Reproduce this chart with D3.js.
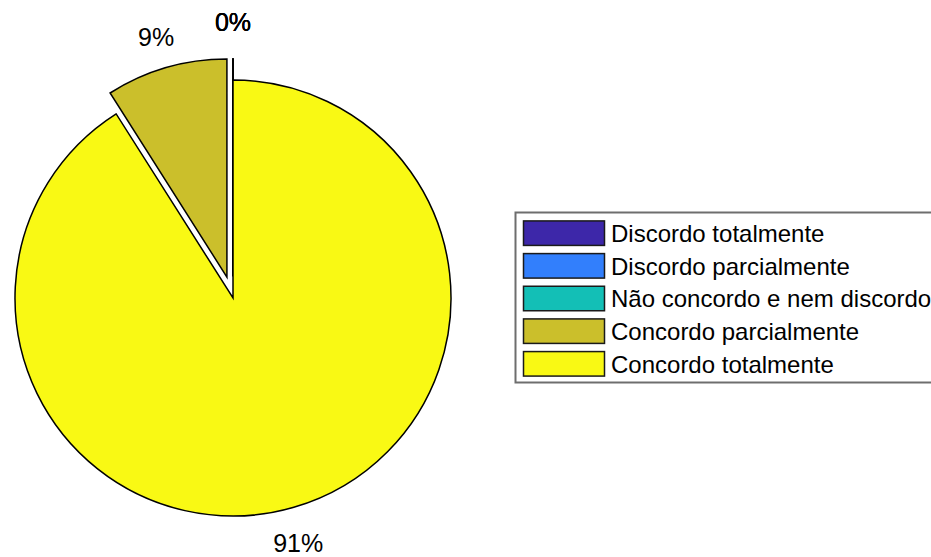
<!DOCTYPE html>
<html>
<head>
<meta charset="utf-8">
<script src="https://cdn.jsdelivr.net/npm/d3@7"></script>
<style>
  html, body { margin: 0; padding: 0; background: #fff; }
  svg { display: block; }
  text { font-family: "Liberation Sans", Arial, sans-serif; fill: #000; }
</style>
</head>
<body>
<svg id="chart" width="931" height="557"></svg>
<script>
// ---- data ----
const categories = ["Discordo totalmente", "Discordo parcialmente", "Não concordo e nem discordo", "Concordo parcialmente", "Concordo totalmente"];
const values = [0, 0, 0, 9, 91];
const labels = ["0%", "0%", "0%", "9%", "91%"];
const explode = [1, 1, 1, 1, 0];
const colors = ["#3d27a9", "#327ffc", "#13bfb6", "#cbbf2b", "#f9f914"];

// ---- layout ----
const W = 931, H = 557;
const cx = 233, cy = 298, R = 218;
const explodeDist = 0.1 * R;
const labelDist = 1.165 * R;

const svg = d3.select("#chart");

const pie = d3.pie().sort(null).value(d => d).startAngle(0).endAngle(-2 * Math.PI);
const arcs = pie(values);
const arc = d3.arc().innerRadius(0).outerRadius(R);

const g = svg.append("g").attr("transform", `translate(${cx},${cy})`);

arcs.forEach((a, i) => {
  const mid = (a.startAngle + a.endAngle) / 2;
  const dx = explode[i] ? explodeDist * Math.sin(mid) : 0;
  const dy = explode[i] ? -explodeDist * Math.cos(mid) : 0;
  g.append("path")
    .attr("d", arc(a))
    .attr("transform", `translate(${dx},${dy})`)
    .attr("fill", colors[i])
    .attr("stroke", "#000")
    .attr("stroke-width", 1.5)
    .attr("stroke-linejoin", "miter");
});

arcs.forEach((a, i) => {
  const mid = (a.startAngle + a.endAngle) / 2;
  const dx = explode[i] ? explodeDist * Math.sin(mid) : 0;
  const dy = explode[i] ? -explodeDist * Math.cos(mid) : 0;
  const lower = Math.cos(mid) < 0;
  const lx = dx + labelDist * Math.sin(mid) * (lower ? 0.92 : 1);
  const ly = dy - labelDist * Math.cos(mid);
  const yShift = Math.abs(Math.sin(mid)) > 0.01 ? (lower ? 10.5 : 12.6) : 8.6;
  g.append("text")
    .attr("x", lx)
    .attr("y", ly + yShift)
    .attr("text-anchor", "middle")
    .attr("font-size", 25)
    .text(labels[i]);
});

// ---- legend ----
const lg = svg.append("g").attr("transform", "translate(515.5,212.5)");
lg.append("rect")
  .attr("x", 0).attr("y", 0)
  .attr("width", 430).attr("height", 170)
  .attr("fill", "#fff")
  .attr("stroke", "#6e6e6e")
  .attr("stroke-width", 2);

const rowY = d3.scaleBand().domain(d3.range(categories.length)).range([4.5, 167.5]).paddingInner(0.25).paddingOuter(0.12);

categories.forEach((c, i) => {
  const y = rowY(i);
  lg.append("rect")
    .attr("x", 8).attr("y", y)
    .attr("width", 81).attr("height", rowY.bandwidth())
    .attr("fill", colors[i])
    .attr("stroke", "#1a1a1a")
    .attr("stroke-width", 1.5);
  lg.append("text")
    .attr("x", 95.5)
    .attr("y", y + rowY.bandwidth() / 2 + 8.8)
    .attr("font-size", 24)
    .text(c);
});
</script>
</body>
</html>
